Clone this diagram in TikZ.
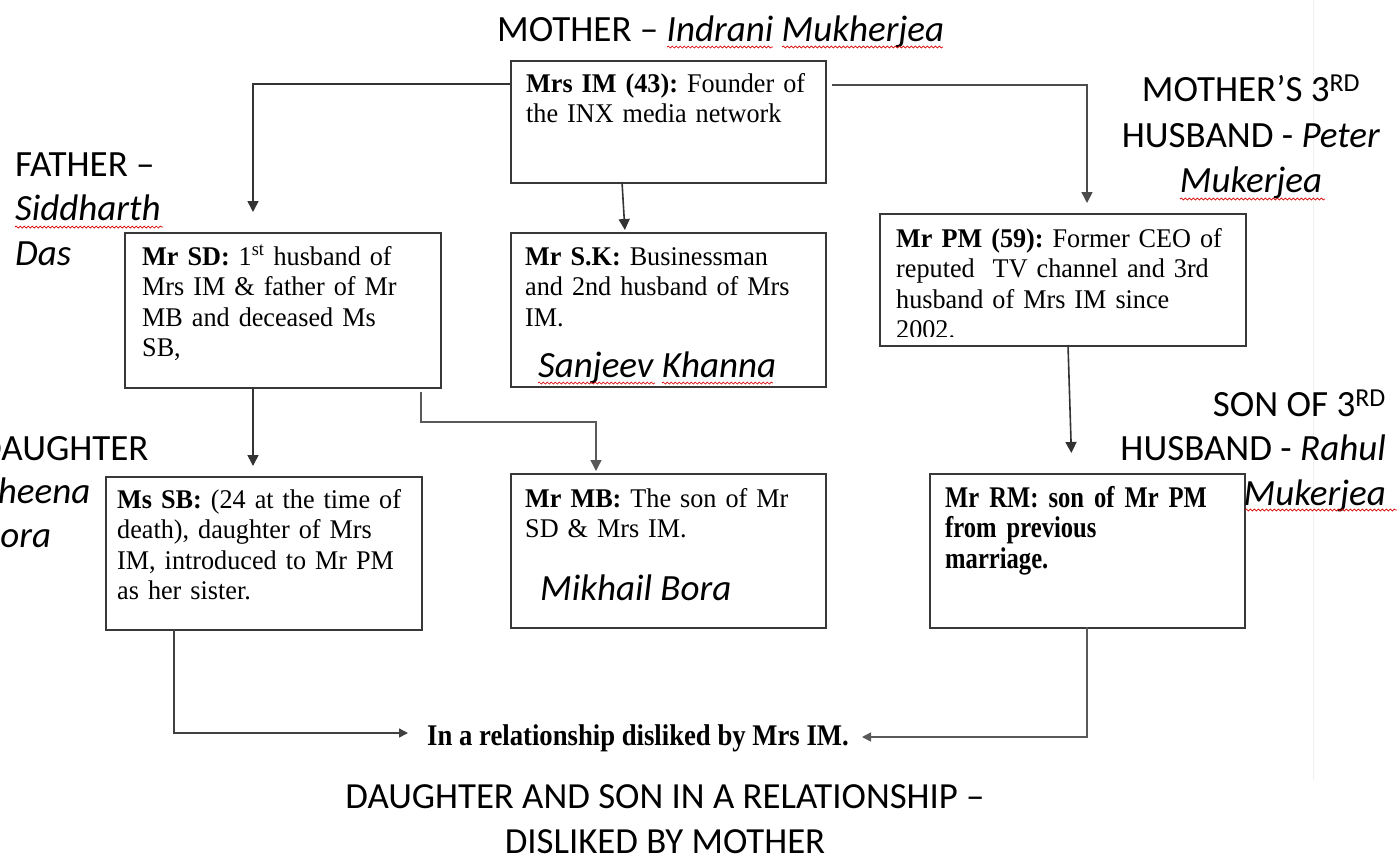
\documentclass[tikz,border=0pt]{standalone}
\usepackage{fontspec}
\setmainfont{Liberation Serif}
\newfontfamily\calfont{Carlito}
\newfontfamily\boxserif[FakeStretch=0.97]{Liberation Serif}
\newfontfamily\condserif[FakeStretch=0.89]{Liberation Serif}
\newfontfamily\rmserif[FakeStretch=0.82]{Liberation Serif}
\usetikzlibrary{arrows.meta,decorations.pathmorphing,calc}
\frenchspacing
\begin{document}
\begin{tikzpicture}[x=1pt,y=-1pt,
  box/.style={draw=black!78, line width=1.6pt, rectangle, inner sep=0pt, anchor=north west},
  txt/.style={anchor=base west, inner sep=0pt, align=left, text width=#1, font=\frenchspacing\boxserif\fontsize{27}{30.5}\selectfont},
  boldtxt/.style={anchor=base west, inner sep=0pt, align=left, text width=#1, font=\frenchspacing\rmserif\bfseries\fontsize{30}{30.5}\selectfont},
  lbl/.style={inner sep=0pt, font=\calfont\fontsize{37}{45}\selectfont},
  capt/.style={inner sep=0pt, font=\calfont\fontsize{36.8}{45}\selectfont},
  conn/.style={draw=black!80, line width=1.6pt, -{Triangle[length=11pt,width=11pt]}},
  connsm/.style={draw=black!75, line width=1.5pt, -{Triangle[length=9pt,width=9pt]}},
  wavy/.style={draw=red!85!black, line width=0.7pt, decorate, decoration={snake, segment length=4pt, amplitude=1pt}}
]
\useasboundingbox (0,0) rectangle (1397,855);
\clip (0,0) rectangle (1397,855);
\fill[white] (0,0) rectangle (1397,855);
% faint page edge
\draw[black!6, line width=1pt] (1313,0) -- (1313,780);

% boxes
\node[box, minimum width=315pt, minimum height=122pt] (IM) at (510,60) {};
\node[box, minimum width=316pt, minimum height=155pt] (SD) at (124,232) {};
\node[box, minimum width=315pt, minimum height=154pt] (SK) at (510,232) {};
\node[box, minimum width=366pt, minimum height=132pt] (PM) at (879,213) {};
\node[box, minimum width=316pt, minimum height=153pt] (SB) at (105,476) {};
\node[box, minimum width=315pt, minimum height=154pt] (MB) at (510,473) {};
\node[box, minimum width=315pt, minimum height=154pt] (RM) at (929,473) {};

% box texts
\node[txt=295pt] (tIM) at (526,92) {\textbf{Mrs IM (43):} Founder of\\the INX media network};
\node[txt=295pt] (tSD) at (142,265) {\textbf{Mr SD:} 1\textsuperscript{st} husband of\\Mrs IM \& father of Mr\\MB and deceased Ms\\SB,};
\node[txt=295pt] (tSK) at (525,265) {\textbf{Mr S.K:} Businessman\\and 2nd husband of Mrs\\IM.};
\node[lbl, anchor=base west] (nSK) at (538,377) {\itshape Sanjeev Khanna};
\begin{scope}
\clip (879,213) rectangle (1245,336);
\node[txt=345pt] (tPM) at (896,247) {\textbf{Mr PM (59):} Former CEO of\\reputed\ \ TV channel and 3rd\\husband of Mrs IM since\\2002.};
\end{scope}
\node[txt=300pt] (tSB) at (117,508) {\textbf{Ms SB:} (24 at the time of\\death), daughter of Mrs\\IM, introduced to Mr PM\\as her sister.};
\node[txt=295pt] (tMB) at (525,507) {\textbf{Mr MB:} The son of Mr\\SD \& Mrs IM.};
\node[lbl, anchor=base west] (nMB) at (540,600) {\itshape Mikhail Bora};
\node[boldtxt=295pt] (tRM) at (945,507) {Mr RM: son of Mr PM\\from previous\\marriage.};

% relationship text
\node[anchor=base west, inner sep=0pt, font=\condserif\bfseries\fontsize{30}{32}\selectfont] (rel) at (427,745) {In a relationship disliked by Mrs IM.};

% labels
\node[lbl, anchor=base west] (lM) at (497,41) {MOTHER – \textit{Indrani Mukherjea}};
\node[lbl, anchor=base west] (lF1) at (15,176) {FATHER –};
\node[lbl, anchor=base west] (lF2) at (15,220) {\textit{Siddharth}};
\node[lbl, anchor=base west] (lF3) at (15,265) {\textit{Das}};
\node[lbl, anchor=base] (lH1) at (1251,101) {MOTHER’S 3\textsuperscript{RD}};
\node[lbl, anchor=base] (lH2) at (1251,147) {HUSBAND - \textit{Peter}};
\node[lbl, anchor=base] (lH3) at (1251,192) {\textit{Mukerjea}};
\node[lbl, anchor=base east] (lS1) at (1386,416) {SON OF 3\textsuperscript{RD}};
\node[lbl, anchor=base east] (lS2) at (1386,460) {HUSBAND - \textit{Rahul}};
\node[lbl, anchor=base east] (lS3) at (1386,505) {\textit{Mukerjea}};
\node[lbl, anchor=base west] (lD1) at (-21,460) {DAUGHTER};
\node[lbl, anchor=base west] (lD2) at (-19,503) {\textit{Sheena}};
\node[lbl, anchor=base west] (lD3) at (-20,547) {\textit{Bora}};
\node[capt, anchor=base] (c1) at (665,808) {DAUGHTER AND SON IN A RELATIONSHIP –};
\node[capt, anchor=base] (c2) at (665,853) {DISLIKED BY MOTHER};

% spell-check underlines
\draw[wavy] (667,47) -- (773,47);
\draw[wavy] (782,47) -- (943,47);
\draw[wavy] (15,227) -- (163,227);
\draw[wavy] (1180,199) -- (1325,199);
\draw[wavy] (1245,510) -- (1397,510);
\draw[wavy] (538,383) -- (655,383);
\draw[wavy] (662,383) -- (773,383);

% connector anchor points
\coordinate (imL) at (IM.west |- 0,84);
\coordinate (imR) at (832,85);
\coordinate (imB) at (622,182);
\coordinate (sdIn) at (253,232);
\coordinate (pmIn) at (1087,213);
\coordinate (skIn) at (625,232);
\coordinate (sdB) at (253,387);
\coordinate (sbIn) at (253,476);
\coordinate (sdB2) at (421,392);
\coordinate (mbIn) at (596,473);
\coordinate (pmB) at (1068,345);
\coordinate (rmIn) at (1072,473);
\coordinate (sbB) at (174,629);
\coordinate (rmB) at (1087,627);
\coordinate (relL) at (408,733);
\coordinate (relR) at (862,737);

% connectors
\draw[conn, shorten >=20pt] (imL) -| (sdIn);
\draw[conn, draw=black!70, shorten >=10pt] (imR) -| (pmIn);
\draw[conn, shorten >=2pt] (imB) -- (skIn);
\draw[conn, shorten >=10pt] (sdB) -- (sbIn);
\draw[conn, draw=black!65, line width=1.3pt] (sdB2) -- (421,422) -- (596,422) -- ($(mbIn)+(0,-2)$);
\draw[conn, shorten >=20pt] (pmB) -- (rmIn);
\draw[connsm] (sbB) |- (relL);
\draw[connsm, draw=black!65] (rmB) |- (relR);
\end{tikzpicture}
\end{document}
